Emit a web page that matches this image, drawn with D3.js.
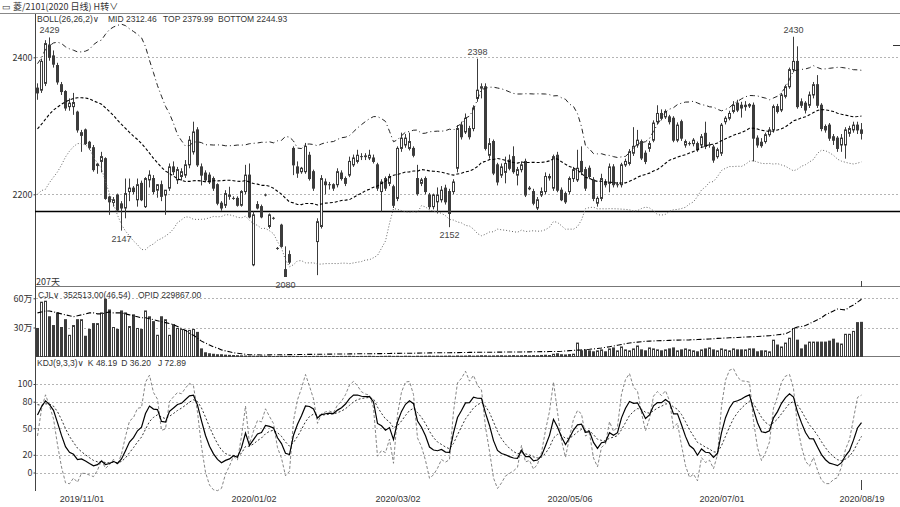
<!DOCTYPE html>
<html><head><meta charset="utf-8">
<script src="https://cdn.jsdelivr.net/npm/d3@7"></script>
<style>body{margin:0;background:#fff}svg{display:block;font-family:"Liberation Sans","DejaVu Sans",sans-serif}</style>
</head><body><svg id="c" width="900" height="507"></svg>
<script>
// ---------- data ----------
const opens=[2355,2352,2362,2418,2402,2388,2360,2350,2328,2328,
2320,2286,2294,2276,2268,2242,2248,2252,2196,2188,
2199,2186,2180,2204,2209,2192,2216,2182,2221,2223,
2206,2214,2199,2209,2240,2221,2226,2228,2243,2262,
2294,2240,2231,2228,2223,2214,2187,2184,2197,2194,
2194,2184,2204,2228,2097,2185,2182,2199,2153,2165,
2121,2155,2090,2112,2267,2240,2233,2233,2257,2233,
2131,2153,2218,2214,2214,2214,2231,2223,2228,2243,
2248,2255,2255,2253,2253,2243,2204,2223,2216,2211,
2194,2267,2272,2267,2267,2223,2216,2223,2199,2182,
2189,2192,2209,2204,2204,2238,2301,2291,2296,2296,
2340,2355,2357,2257,2277,2243,2228,2232,2250,2255,
2228,2236,2248,2208,2204,2180,2199,2204,2224,2209,
2257,2206,2201,2204,2223,2221,2248,2236,2238,2221,
2187,2194,2218,2216,2240,2214,2214,2243,2245,2260,
2272,2277,2260,2267,2279,2306,2318,2313,2313,2311,
2279,2306,2272,2274,2274,2274,2272,2289,2272,2269,
2255,2260,2306,2311,2321,2333,2330,2328,2329,2330,
2282,2276,2277,2287,2294,2328,2323,2343,2357,2382,
2394,2335,2333,2330,2345,2360,2330,2299,2301,2284,
2282,2272,2272,2289,2294,2301,2294];
const highs=[2362,2398,2425,2429,2410,2392,2364,2352,2340,2348,
2322,2294,2296,2278,2272,2246,2262,2254,2198,2196,
2201,2190,2223,2223,2212,2223,2220,2225,2235,2228,
2215,2220,2206,2245,2248,2240,2238,2250,2285,2306,
2298,2245,2235,2232,2226,2216,2190,2206,2211,2197,
2197,2206,2243,2245,2175,2190,2185,2201,2172,2167,
2123,2157,2124,2118,2270,2248,2240,2275,2262,2236,
2165,2228,2223,2218,2216,2238,2235,2226,2255,2258,
2265,2260,2260,2265,2258,2246,2222,2226,2230,2214,
2270,2290,2288,2290,2270,2243,2224,2226,2202,2201,
2210,2212,2214,2208,2222,2301,2306,2318,2300,2330,
2398,2362,2362,2282,2280,2246,2245,2255,2258,2270,
2240,2248,2252,2212,2208,2196,2210,2232,2230,2258,
2262,2210,2204,2226,2240,2265,2270,2240,2242,2225,
2197,2230,2222,2245,2244,2218,2246,2252,2266,2298,
2294,2280,2264,2278,2308,2330,2324,2324,2316,2314,
2305,2309,2280,2277,2282,2277,2288,2306,2276,2272,
2268,2304,2314,2322,2336,2338,2335,2336,2333,2334,
2286,2282,2290,2298,2331,2332,2348,2360,2385,2430,
2416,2340,2336,2350,2364,2374,2333,2302,2304,2288,
2285,2288,2298,2300,2306,2306,2304];
const lows=[2338,2348,2358,2395,2385,2360,2345,2322,2322,2316,
2290,2262,2272,2265,2233,2230,2232,2192,2170,2182,
2175,2147,2165,2190,2200,2182,2190,2180,2210,2200,
2195,2190,2170,2205,2228,2215,2220,2224,2238,2258,
2240,2213,2218,2215,2205,2184,2176,2180,2192,2192,
2182,2182,2200,2165,2095,2178,2165,2197,2150,2163,
2119,2122,2080,2098,2228,2224,2230,2230,2220,2205,
2082,2150,2200,2207,2205,2210,2220,2212,2225,2240,
2245,2250,2250,2250,2245,2205,2175,2205,2212,2180,
2190,2262,2268,2264,2254,2198,2212,2200,2178,2178,
2172,2188,2185,2152,2200,2232,2280,2288,2280,2292,
2335,2340,2264,2252,2228,2213,2224,2216,2235,2230,
2213,2232,2196,2206,2184,2177,2196,2200,2220,2205,
2203,2190,2186,2200,2218,2218,2228,2205,2222,2190,
2182,2190,2210,2203,2210,2210,2210,2240,2242,2256,
2268,2250,2244,2262,2276,2302,2308,2310,2302,2276,
2276,2278,2268,2271,2270,2262,2268,2266,2268,2246,
2252,2256,2302,2308,2318,2320,2312,2322,2326,2248,
2268,2268,2274,2284,2290,2318,2320,2340,2354,2378,
2325,2326,2318,2326,2340,2326,2292,2290,2278,2272,
2262,2262,2252,2284,2290,2288,2280];
const closes=[2348,2394,2420,2400,2390,2364,2350,2326,2333,2334,
2294,2290,2274,2268,2236,2244,2255,2194,2189,2192,
2177,2180,2201,2209,2204,2214,2192,2223,2228,2204,
2214,2197,2206,2240,2233,2236,2233,2243,2279,2291,
2243,2228,2221,2218,2209,2187,2180,2201,2199,2194,
2184,2204,2228,2167,2170,2180,2167,2199,2170,2165,
2121,2124,2080,2101,2243,2231,2238,2270,2223,2209,
2160,2223,2214,2214,2209,2233,2223,2216,2248,2253,
2257,2255,2256,2257,2248,2209,2218,2209,2226,2184,
2267,2282,2282,2277,2257,2201,2221,2204,2182,2199,
2199,2206,2189,2172,2218,2296,2284,2311,2284,2326,
2352,2357,2267,2274,2231,2218,2240,2245,2238,2233,
2236,2243,2199,2209,2187,2192,2204,2226,2226,2255,
2206,2192,2189,2223,2236,2238,2233,2209,2226,2194,
2194,2223,2214,2240,2214,2214,2243,2248,2262,2270,
2279,2253,2248,2274,2304,2318,2311,2321,2306,2279,
2301,2282,2277,2274,2279,2265,2284,2270,2272,2250,
2265,2301,2311,2318,2330,2323,2326,2330,2331,2282,
2272,2271,2287,2294,2328,2321,2345,2357,2382,2394,
2328,2330,2323,2345,2360,2330,2296,2294,2282,2279,
2267,2282,2294,2296,2301,2294,2289];
// closes before the first visible bar (estimated from where the BOLL / KDJ lines start)
const warmupCloses=[2215,2228,2210,2235,2250,2242,2238,2260,2275,2268,2290,2285,2300,2312,2305,2320,2335,2328,2342,2355,2340,2350,2362,2348,2340];
// volume, in 万 (10k lots)
const volumes=[29,56,57,41,32,45,30,38,22,32,38,38,21,28,34,34,45,59,48,30,28,47,45,31,43,29,28,47,41,36,22,41,38,22,33,29,28,27,27,28,25,8,4,3,2.5,2,
2,1.6,1.4,1.2,1,0.9,0.7,0.6,0.5,0.5,
0.4,0.3,0.3,0.2,0.3,0.4,0.3,0.2,0.3,0.3,0.2,0.3,0.2,0.3,0.4,0.3,0.3,0.2,0.3,0.2,0.3,0.3,0.4,0.3,0.2,0.3,0.3,0.4,0.3,0.2,0.3,0.4,0.5,0.3,0.4,0.3,0.5,0.4,0.3,0.5,0.4,0.5,0.6,0.5,0.6,
0.5,0.6,0.7,0.5,0.8,0.6,0.7,0.9,0.6,0.8,1.0,0.9,0.7,0.8,0.9,1.0,0.8,0.9,1.1,0.9,1.0,1.2,0.9,1.1,1.0,1.3,1.5,1.2,2.5,3.0,2.0,1.8,2.2,2.6,
14,6,7,6,5,6,7,5,8,9,6,10,7,6,8,11,7,6,9,8,7,6,7,8,9,6,7,8,7,6,5,7,8,9,7,6,8,7,6,
8,7,7,7,8,8,5,6,6,5,17,12,10,14,19,29,17,8,12,15,15,15,15,15,16,18,14,13,23,23,26,35,35.3];
// open interest line, in the volume panel's units
const openInterest=[45,46,47,47,46,45,44,43,42,41,42,
43,44,45,45,44,44,45,46,45,45,
45,44,43,42,41,40,40,39,38,37,
36,35,34,33,31,29,27,24,22,19,
16,14,12,10,9,7,6,5,4,3.5,3,2.5,
2,2,2,1.8,1.8,1.9,2,2,2,2.1,2.1,2.2,2.2,2.3,2.3,2.4,2.4,2.5,2.5,2.6,2.6,2.7,2.7,2.8,2.8,2.9,2.9,3,3,3,3.1,3.1,3.2,3.2,3.3,3.3,3.4,3.4,3.5,3.5,3.6,3.6,3.7,3.8,3.8,3.9,4,4,
4.0,4.1,4.1,4.2,4.2,4.3,4.3,4.4,4.4,4.5,4.5,4.5,4.6,4.6,4.7,4.7,4.8,4.8,4.8,4.9,4.9,5.0,5.0,5.1,5.1,5.2,5.2,5.3,5.3,5.4,
5.6,5.9,6.2,6.5,6.8,7.0,7.3,7.6,8.0,8.5,9.0,9.6,10.3,11,11.8,12.6,13.3,14,14.6,15,
15.4,15.8,16,16.2,16.4,16.5,16.6,16.8,17,17,17.1,17.2,17.3,17.5,17.6,17.8,18,18.2,18.5,18.8,19,19.2,19.5,
19.6,19.8,20,20.2,20.4,20.6,20.8,21,21.3,21.6,22,22.5,23,23.5,25.5,29,30.5,31,32,34,36,38,40,43,45,47,49,48.5,48,51,53,56,59];
const dateTickIndex=[11,54,90,133,171,206];
const dateLabels=["2019/11/01","2020/01/02","2020/03/02","2020/05/06","2020/07/01","2020/08/19"];
const priceTicks=[2400,2200];
const volTicks=[60,30];
const volTickLabels=["60万","30万"];
const kdjTicks=[100,80,50,20,0];
const markedLine=2175;
const extremeIndex=[3,21,62,103,110,189];
const extremeValue=[2429,2147,2080,2152,2398,2430];
const extremeSide=["high","low","low","low","high","high"];
const bollHeader=["BOLL(26,26,2)∨","MID 2312.46","TOP 2379.99","BOTTOM 2244.93"];
const volHeader=["CJL∨","352513.00(46.54)","OPID 229867.00"];
const kdjHeader=["KDJ(9,3,3)∨","K 48.19","D 36.20","J 72.89"];

// ---------- indicators (computed from the bars, as the original does) ----------
const N=closes.length;
const allC=warmupCloses.concat(closes);
const W0=warmupCloses.length;
const boll=closes.map((c,i)=>{
  const w=allC.slice(W0+i-25,W0+i+1);
  const m=d3.mean(w);
  const sd=Math.sqrt(d3.mean(w,v=>(v-m)*(v-m)));
  return {mid:m,top:m+2*sd,bot:m-2*sd};
});
const allH=warmupCloses.concat(highs), allL=warmupCloses.concat(lows);
let K=50,D=50; const kdj=[];
for(let j=0;j<allC.length;j++){
  const s=Math.max(0,j-8);
  const hh=d3.max(allH.slice(s,j+1)), ll=d3.min(allL.slice(s,j+1));
  const rsv=hh===ll?50:(allC[j]-ll)/(hh-ll)*100;
  K=2/3*K+rsv/3; D=2/3*D+K/3;
  if(j>=W0) kdj.push({k:K,d:D,j:3*K-2*D});
}

// ---------- drawing ----------
const svg=d3.select('#c');
const x=d3.scaleLinear().domain([0,N-1]).range([37.5,861.5]);
const yP=d3.scaleLinear().domain([2200,2400]).range([194.3,57.3]);
const yV=d3.scaleLinear().domain([0,60]).range([356.7,298.3]);
const yK=d3.scaleLinear().domain([0,100]).range([472.5,384]);
const txt='#333', dark='#3c3c3c';

const defs=svg.append('defs');
defs.append('clipPath').attr('id','cpMain').append('rect').attr('x',35).attr('y',14).attr('width',865).attr('height',272.5);
defs.append('clipPath').attr('id','cpVol').append('rect').attr('x',35).attr('y',287).attr('width',865).attr('height',70);
defs.append('clipPath').attr('id','cpK').append('rect').attr('x',35).attr('y',357).attr('width',865).attr('height',135);

// top bar
svg.append('line').attr('x1',0).attr('x2',900).attr('y1',13.5).attr('y2',13.5).attr('stroke','#888');
svg.append('text').attr('x',2).attr('y',10).attr('font-size',9).attr('fill',txt)
  .attr('font-family','"Noto Sans CJK SC",sans-serif').text('▭ 菱/2101(2020 日线)   H转∨');
svg.append('line').attr('x1',893).attr('x2',900).attr('y1',45.5).attr('y2',45.5).attr('stroke','#333');

// grid
const grid=svg.append('g').attr('stroke','#b4b4b4').attr('stroke-dasharray','2,2').attr('stroke-width',1);
priceTicks.forEach(v=>grid.append('line').attr('x1',36).attr('x2',900).attr('y1',Math.round(yP(v))+0.5).attr('y2',Math.round(yP(v))+0.5));
volTicks.forEach(v=>grid.append('line').attr('x1',36).attr('x2',900).attr('y1',Math.round(yV(v))+0.5).attr('y2',Math.round(yV(v))+0.5));
kdjTicks.forEach(v=>grid.append('line').attr('x1',36).attr('x2',900).attr('y1',Math.round(yK(v))+0.5).attr('y2',Math.round(yK(v))+0.5));

// panel separators & left axis line
[286.5,356.5].forEach(y=>svg.append('line').attr('x1',35).attr('x2',900).attr('y1',y).attr('y2',y).attr('stroke','#777'));
svg.append('line').attr('x1',35.5).attr('x2',35.5).attr('y1',14).attr('y2',491).attr('stroke','#444');

// axes labels
function leftAxis(scale,vals,fmt){
  const g=svg.append('g').attr('transform','translate(35.5,0)')
    .call(d3.axisLeft(scale).tickValues(vals).tickSize(2).tickSizeOuter(0).tickFormat(fmt));
  g.select('.domain').remove();
  g.selectAll('text').attr('fill',txt).attr('font-size',9).attr('x',-3).attr('font-family','"Noto Sans CJK SC","Liberation Sans",sans-serif');
  g.selectAll('line').attr('stroke','#444');
}
leftAxis(yP,priceTicks,d=>d);
leftAxis(yV,volTicks,(d,i)=>volTickLabels[i]);
leftAxis(yK,kdjTicks,d=>d);

const xa=svg.append('g').attr('transform','translate(0,491)')
  .call(d3.axisBottom(x).tickValues(dateTickIndex).tickSize(0).tickFormat((d,i)=>dateLabels[i]));
xa.select('.domain').remove();
xa.selectAll('text').attr('fill',txt).attr('font-size',9).attr('dy','0.85em');

// main panel
const gm=svg.append('g').attr('clip-path','url(#cpMain)');
gm.append('line').attr('x1',35).attr('x2',900).attr('y1',Math.round(yP(markedLine))+0.5).attr('y2',Math.round(yP(markedLine))+0.5).attr('stroke','#000').attr('stroke-width',1.3);
const idx=d3.range(N);
gm.selectAll('line.wick').data(idx).join('line').attr('class','wick')
  .attr('x1',i=>x(i)).attr('x2',i=>x(i)).attr('y1',i=>yP(highs[i])).attr('y2',i=>yP(lows[i]))
  .attr('stroke',dark).attr('stroke-width',1);
gm.selectAll('rect.body').data(idx).join('rect').attr('class','body')
  .attr('x',i=>x(i)-1).attr('width',2)
  .attr('y',i=>yP(Math.max(opens[i],closes[i])))
  .attr('height',i=>Math.max(0.01,Math.abs(yP(opens[i])-yP(closes[i]))))
  .attr('fill',i=>closes[i]>=opens[i]?'#fff':dark).attr('stroke',dark).attr('stroke-width',1);

const lineOf=(acc,sc)=>d3.line().x((d,i)=>x(i)).y(d=>sc(acc(d))).curve(d3.curveLinear);
gm.append('path').datum(boll).attr('d',lineOf(d=>d.top,yP)).attr('fill','none').attr('stroke','#222').attr('stroke-width',1).attr('stroke-dasharray','5,3,1,3');
gm.append('path').datum(boll).attr('d',lineOf(d=>d.mid,yP)).attr('fill','none').attr('stroke','#000').attr('stroke-width',1.1).attr('stroke-dasharray','3,2');
gm.append('path').datum(boll).attr('d',lineOf(d=>d.bot,yP)).attr('fill','none').attr('stroke','#666').attr('stroke-width',1).attr('stroke-dasharray','1,2');

// extreme labels
extremeIndex.forEach((k,n)=>{
  const hi=extremeSide[n]==='high';
  svg.append('text').attr('x',x(k)).attr('y',yP(extremeValue[n])+(hi?-4:11)).attr('text-anchor','middle')
    .attr('font-size',9).attr('fill','#444').text(extremeValue[n]);
});

// headers: laid out left to right, never overlapping
function header(x0,yy,parts,targets){
  let end=0;
  parts.forEach((t,n)=>{
    const xx=Math.max(targets[n],end+4);
    const el=svg.append('text').attr('x',xx).attr('y',yy).attr('font-size',8.5).attr('fill',txt).text(t);
    end=xx+el.node().getComputedTextLength();
  });
}
header(37,22,bollHeader,[37,108,163,218]);
svg.append('text').attr('x',36).attr('y',285).attr('font-size',9).attr('fill',txt).attr('font-family','"Noto Sans CJK SC",sans-serif').text('207天');
header(38,298,volHeader,[38,62,138]);
header(37,366,kdjHeader,[37,84,121,158]);

// volume panel
const gv=svg.append('g').attr('clip-path','url(#cpVol)');
gv.selectAll('rect').data(idx).join('rect')
  .attr('x',i=>x(i)-1).attr('width',2)
  .attr('y',i=>yV(volumes[i])).attr('height',i=>Math.max(0.01,yV(0)-yV(volumes[i])))
  .attr('fill',i=>closes[i]>=opens[i]?'#fff':dark).attr('stroke',dark).attr('stroke-width',1);
gv.append('path').datum(openInterest).attr('d',lineOf(d=>d,yV)).attr('fill','none').attr('stroke','#000').attr('stroke-width',1.1).attr('stroke-dasharray','5,2,1,2');

// KDJ panel
const gk=svg.append('g').attr('clip-path','url(#cpK)');
gk.append('path').datum(kdj).attr('d',lineOf(d=>d.j,yK)).attr('fill','none').attr('stroke','#777').attr('stroke-width',0.9).attr('stroke-dasharray','3,2');
gk.append('path').datum(kdj).attr('d',lineOf(d=>d.d,yK)).attr('fill','none').attr('stroke','#333').attr('stroke-width',1).attr('stroke-dasharray','2,2');
gk.append('path').datum(kdj).attr('d',lineOf(d=>d.k,yK)).attr('fill','none').attr('stroke','#000').attr('stroke-width',1.2);

// last-bar markers
svg.append('line').attr('x1',x(N-1)).attr('x2',x(N-1)).attr('y1',281).attr('y2',287).attr('stroke','#444');
svg.append('line').attr('x1',x(N-1)).attr('x2',x(N-1)).attr('y1',480).attr('y2',490).attr('stroke','#444');
</script></body></html>
